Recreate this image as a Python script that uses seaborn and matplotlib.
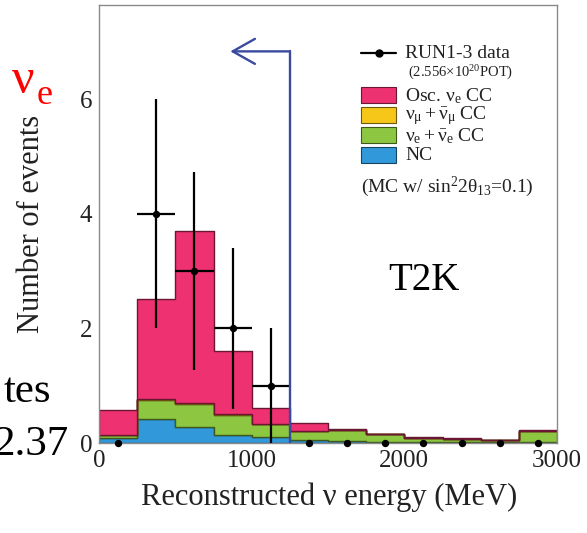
import numpy as np
import pandas as pd
import matplotlib
matplotlib.use("Agg")
import matplotlib.pyplot as plt
import matplotlib.colors as mcolors
from matplotlib.patches import Rectangle
from matplotlib.lines import Line2D
import seaborn as sns

# ---- data -------------------------------------------------------------
bin_edges = np.arange(0, 3001, 250)          # reconstructed energy bins (MeV)
bin_centers = (bin_edges[:-1] + bin_edges[1:]) / 2

osc_nue_cc = [0.43, 1.76, 3.01, 1.11, 0.29, 0.14, 0.03, 0.01, 0.01, 0.01, 0.00, 0.01]
numu_cc    = [0.00, 0.01, 0.01, 0.01, 0.00, 0.00, 0.00, 0.00, 0.00, 0.00, 0.00, 0.00]
nue_bg_cc  = [0.06, 0.33, 0.40, 0.35, 0.22, 0.16, 0.19, 0.13, 0.07, 0.05, 0.04, 0.19]
nc         = [0.08, 0.42, 0.28, 0.14, 0.11, 0.05, 0.03, 0.02, 0.02, 0.02, 0.01, 0.02]

data_counts = [0, 4, 3, 2, 1, 0, 0, 0, 0, 0, 0, 0]
data_err    = [0, 2.00, 1.73, 1.41, 1.00, 0, 0, 0, 0, 0, 0, 0]

cut_energy = 1250      # MeV, signal region upper edge
arrow_y = 6.84
arrow_tip = 860

components = ["Osc. nue CC", "numu CC", "nue CC", "NC"]
colors = ["#EE3170", "#F6C619", "#8DC641", "#3199DA"]
stack_values = [osc_nue_cc, numu_cc, nue_bg_cc, nc]

df = pd.concat(
    [pd.DataFrame({"energy": bin_centers, "events": vals, "component": name})
     for name, vals in zip(components, stack_values)],
    ignore_index=True,
)

# ---- style ------------------------------------------------------------
sns.set_style("white")
plt.rcParams["font.family"] = ["Liberation Serif", "DejaVu Serif"]
plt.rcParams["mathtext.fontset"] = "custom"
plt.rcParams["mathtext.rm"] = "Liberation Serif"
plt.rcParams["mathtext.it"] = "Liberation Serif:italic"
plt.rcParams["mathtext.default"] = "regular"

W, H = 587, 533
fig = plt.figure(figsize=(W / 100, H / 100), dpi=100)
fig.patch.set_facecolor("white")


def fx(px):
    return px / W


def fy(py):
    return 1 - py / H


ax = fig.add_axes([fx(99), fy(443), (557 - 99) / W, (443 - 5) / H])

sns.histplot(
    data=df, x="energy", weights="events", hue="component",
    hue_order=components, palette=dict(zip(components, colors)),
    multiple="stack", binwidth=250, binrange=(bin_edges[0], bin_edges[-1]),
    element="step", alpha=1, linewidth=1.0, legend=False, ax=ax,
)
for coll in ax.collections:
    fc = np.array(coll.get_facecolor()[0])
    edge = fc.copy()
    edge[:3] *= 0.45
    coll.set_edgecolor(edge)

# data points with Poisson errors
counts = np.array(data_counts, dtype=float)
errs = np.array(data_err)
half_w = np.diff(bin_edges) / 2
has = counts > 0
ax.errorbar(bin_centers[has], counts[has], yerr=errs[has], xerr=half_w[has],
            fmt="none", ecolor="black", elinewidth=1.6, capsize=0, zorder=5)
ax.scatter(bin_centers, counts, s=28, color="black", zorder=6, clip_on=False,
           linewidths=0)

# energy cut with arrow
cut_color = "#3A4A9E"
ax.plot([cut_energy, cut_energy], [0, arrow_y], color=cut_color, lw=1.7,
        zorder=7)
ax.annotate("", xy=(arrow_tip, arrow_y), xytext=(cut_energy, arrow_y),
            arrowprops=dict(arrowstyle="->, head_length=0.8, head_width=0.45",
                            color=cut_color, lw=1.7, mutation_scale=20,
                            shrinkA=0, shrinkB=0),
            zorder=7)

ax.set_xlim(0, 3000)
ax.set_ylim(0, 7.65)
ax.set_xticks([0, 1000, 2000, 3000])
ax.set_xticks(np.arange(0, 3001, 200), minor=True)
ax.set_yticks([0, 2, 4, 6])
ax.set_yticks(np.arange(0, 7.6, 0.5), minor=True)
ax.tick_params(which="both", direction="in", color="#808080", labelsize=18,
               labelcolor="#222222")
ax.tick_params(axis="y", which="major", length=10, width=1, pad=5)
ax.tick_params(axis="y", which="minor", length=5.5, width=1)
ax.tick_params(axis="x", which="major", length=8, width=1, pad=5)
ax.tick_params(axis="x", which="minor", length=4, width=1)
for sp in ax.spines.values():
    sp.set_visible(True)
    sp.set_color("#8a8a8a")
    sp.set_linewidth(1.0)

ax.set_xlabel("Reconstructed ν energy (MeV)", fontsize=22, color="#222222")
ax.set_ylabel("Number of events", fontsize=22, color="#222222")
ax.xaxis.set_label_coords(0.5 + (329 - 328) / 458, (443 - 483) / 438)
ax.xaxis.label.set_va("top")
ax.yaxis.set_label_coords((32 - 99) / 458, 0.5)
ax.yaxis.label.set_va("center")

# ---- legend -------------------------------------------------------------
hx0, hx1, tx = 361, 396, 405
leg_rows = [95, 115, 135, 155]
leg_labels = [
    "Osc. ν$_e$ CC",
    r"$\nu_\mu+\bar{\nu}_\mu$ CC",
    r"$\nu_e+\bar{\nu}_e$ CC",
    "NC",
]
leg_fs = 14
fig.add_artist(Line2D([fx(hx0), fx(hx1)], [fy(53), fy(53)], color="black",
                      lw=1.6, transform=fig.transFigure))
fig.add_artist(Line2D([fx((hx0 + hx1) / 2)], [fy(53)], color="black",
                      marker="o", ms=5, lw=0, transform=fig.transFigure))
fig.text(fx(tx), fy(53), "RUN1-3 data", fontsize=leg_fs, va="center",
         ha="left", color="#222222")
fig.text(fx(408), fy(73), "(2.556×10$^{20}$POT)", fontsize=10.5, va="center",
         ha="left", color="#222222")
for yc, col, lab in zip(leg_rows, colors, leg_labels):
    ec = np.array(mcolors.to_rgb(col)) * 0.45
    fig.add_artist(Rectangle((fx(hx0), fy(yc + 8)), fx(hx1 - hx0), 16 / H,
                             facecolor=col, edgecolor=ec, lw=0.8,
                             transform=fig.transFigure))
    fig.text(fx(tx), fy(yc + 1), lab, fontsize=leg_fs, va="center", ha="left",
             color="#222222")
fig.text(fx(hx0), fy(187), r"(MC w/ sin$^2$2$\theta_{13}$=0.1)",
         fontsize=leg_fs, va="center", ha="left", color="#222222")

# ---- surrounding annotations ------------------------------------------
fig.text(fx(388), fy(290), "T2K", fontsize=28, ha="left", va="baseline",
         color="black")
fig.text(fx(12), fy(93), "ν", fontsize=36, ha="left", va="baseline",
         color="red")
fig.text(fx(37), fy(104), "e", fontsize=26, ha="left", va="baseline",
         color="red")
fig.text(fx(51), fy(402), "tes", fontsize=31, ha="right", va="baseline",
         color="black")
fig.text(fx(68), fy(455), "2.37", fontsize=31, ha="right", va="baseline",
         color="black")

fig.savefig("out.png", dpi=100)
